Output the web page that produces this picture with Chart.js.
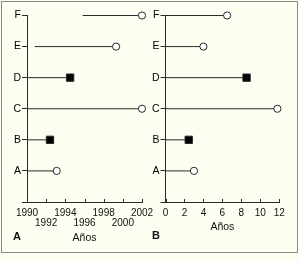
<!DOCTYPE html>
<html><head><meta charset="utf-8">
<script src="https://cdn.jsdelivr.net/npm/chart.js@4.4.1/dist/chart.umd.min.js"></script>
<style>
html,body{margin:0;padding:0;background:#fdfdf2;}
body{width:300px;height:262px;position:relative;overflow:hidden;font-family:"Liberation Sans",Arial,sans-serif;}
.frame{position:absolute;left:1px;top:1px;width:295px;height:250px;border:1px solid #8a8a8a;}
canvas{position:absolute;top:0;}
.tag{position:absolute;font-weight:bold;font-size:11px;color:#111;line-height:12px;}
</style></head><body>
<div class="frame"></div>
<canvas id="cA" width="170" height="262" style="left:0"></canvas>
<canvas id="cB" width="150" height="262" style="left:150px"></canvas>
<div class="tag" style="left:13px;top:230px">A</div>
<div class="tag" style="left:152px;top:229px">B</div>
<script>
// rows, bottom to top
const rows = ['A','B','C','D','E','F'];
const markers = ['circle','rect','circle','rect','circle','circle'];

// panel A: calendar years
const yearTicks = [1990,1992,1994,1996,1998,2000,2002];
const startYear = [1990,1990,1990,1990,1990.8,1995.8];
const endYear   = [1993.1,1992.4,2002,1994.5,1999.3,2002];

// panel B: years of follow-up
const spanTicks = [0,2,4,6,8,10,12];
const startSpan = [0,0,0,0,0,0];
const endSpan   = [3.0,2.45,11.8,8.55,4.0,6.5];

const INK = '#2a2a2a';
const FONT = 'Liberation Sans, Arial, sans-serif';

// x ticks point up into the plot
const innerTicks = {
  id:'innerTicks',
  afterDatasetsDraw(chart){
    const sx = chart.scales.x, ctx = chart.ctx, y0 = sx.top;
    ctx.save(); ctx.strokeStyle = INK; ctx.lineWidth = 1;
    sx.ticks.forEach(t=>{
      const px = Math.round(sx.getPixelForValue(t.value)) + 0.5;
      ctx.beginPath(); ctx.moveTo(px, y0); ctx.lineTo(px, y0-3); ctx.stroke();
    });
    ctx.restore();
  }
};

function build(id, starts, ends, ticks, twoRows, pad, yW, xH){
  const datasets = rows.map((r,i)=>({
    label: r,
    data: [{x:starts[i], y:i+1}, {x:ends[i], y:i+1}],
    showLine: true,
    borderColor: INK, borderWidth: 1,
    pointStyle: markers[i],
    pointRadius: [0, markers[i]==='rect' ? 5.2 : 3.6],
    pointBackgroundColor: markers[i]==='rect' ? '#000' : '#fff',
    pointBorderColor: INK, pointBorderWidth: 1,
    clip: false
  }));
  return new Chart(document.getElementById(id), {
    type:'scatter',
    data:{ datasets },
    plugins:[innerTicks],
    options:{
      responsive:false, animation:false,
      layout:{ padding: pad },
      plugins:{ legend:{display:false}, tooltip:{enabled:false} },
      scales:{
        x:{
          type:'linear', min:ticks[0], max:ticks[ticks.length-1],
          afterBuildTicks: s => { s.ticks = ticks.map(v=>({value:v})); },
          afterFit: s => { s.height = xH; },
          border:{ color:INK, width:1 },
          grid:{ drawOnChartArea:false, drawTicks:false },
          ticks:{ autoSkip:false, maxRotation:0, padding:6, color:'#111',
            font:{ family:FONT, size:10, lineHeight:1 },
            callback:(v,i)=> twoRows && i%2 ? ['', String(ticks[i])] : String(ticks[i]) },
          title:{ display:true, text:'Años', color:'#111', padding:0,
            font:{ family:FONT, size:10.5, lineHeight:1.2 } }
        },
        y:{
          type:'linear', min:0, max:rows.length,
          afterBuildTicks: s => { s.ticks = [0,1,2,3,4,5,6].map(v=>({value:v})); },
          afterFit: s => { s.width = yW; },
          border:{ color:INK, width:1 },
          grid:{ drawOnChartArea:false, drawTicks:true, tickLength:5, color:INK },
          ticks:{ padding:1, color:'#000', font:{ family:FONT, size:10.5 },
            callback: v => v===0 ? '' : rows[v-1] }
        }
      }
    }
  });
}

build('cA', startYear, endYear, yearTicks, true, {left:0, right:28, top:15.5, bottom:18}, 27, 42);
build('cB', startSpan, endSpan, spanTicks, false, {left:0, right:20.7, top:15.5, bottom:29}, 15.5, 31);
</script>
</body></html>
